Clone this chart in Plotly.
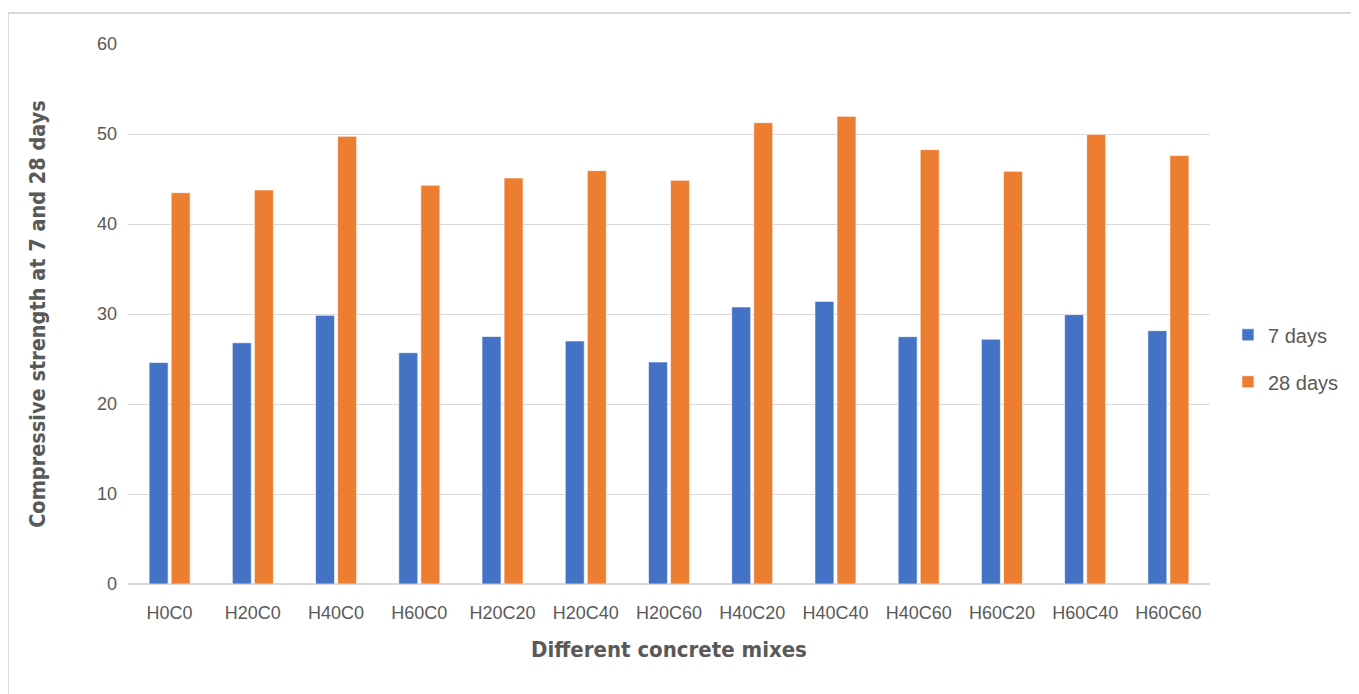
import plotly.graph_objects as go

categories = ["H0C0", "H20C0", "H40C0", "H60C0", "H20C20", "H20C40", "H20C60",
              "H40C20", "H40C40", "H40C60", "H60C20", "H60C40", "H60C60"]
days7 = [24.6, 26.8, 29.85, 25.7, 27.5, 27.0, 24.67, 30.78, 31.4, 27.48, 27.2, 29.93, 28.15]
days28 = [43.48, 43.78, 49.74, 44.3, 45.11, 45.93, 44.85, 51.26, 51.96, 48.26, 45.85, 49.96, 47.6]

fig = go.Figure()
fig.add_trace(go.Bar(x=categories, y=days7, name="7 days", legendgroup="a",
                     marker=dict(color="#4472C4", line=dict(color="rgba(255,255,255,0.6)", width=1))))
fig.add_trace(go.Bar(x=categories, y=days28, name="28 days", legendgroup="b",
                     marker=dict(color="#ED7D31", line=dict(color="rgba(255,255,255,0.6)", width=1))))

title_family = "Liberation Sans Narrow, DejaVu Sans Condensed, Arial Narrow, sans-serif"
border = dict(color="#d9d9d9", width=2)

fig.update_layout(
    width=1351, height=686,
    margin=dict(l=120, r=149, t=36, b=110, autoexpand=False),
    paper_bgcolor="white", plot_bgcolor="white",
    barmode="group", bargap=0.47, bargroupgap=0.14,
    font=dict(family="Liberation Sans, Arial, sans-serif", color="#595959", size=18),
    legend=dict(x=1.0166, y=0.418, xanchor="left", yanchor="middle",
                bgcolor="rgba(0,0,0,0)",
                font=dict(size=20, color="#595959"), tracegroupgap=18, itemwidth=30),
    xaxis=dict(title=dict(text="<b>Different concrete mixes</b>",
                          font=dict(family=title_family, size=22, color="#595959"), standoff=20),
               showline=True, linecolor="#d9d9d9", linewidth=1, ticks="",
               ticklabelstandoff=12,
               tickfont=dict(size=18, color="#595959")),
    yaxis=dict(title=dict(text="<b>Compressive strength at 7 and 28 days</b>",
                          font=dict(family=title_family, size=21.5, color="#595959"), standoff=45),
               range=[0, 60], dtick=10, showgrid=True, gridcolor="#d9d9d9", gridwidth=1,
               zeroline=True, zerolinecolor="#d9d9d9", ticks="",
               ticklabelstandoff=10,
               tickfont=dict(size=18, color="#595959")),
    shapes=[
        dict(type="line", xref="paper", yref="paper", x0=-0.1109, x1=1.14, y0=1.0574, y1=1.0574, line=border),
        dict(type="line", xref="paper", yref="paper", x0=-0.1109, x1=-0.1109, y0=-0.21, y1=1.0574, line=border),
    ],
)

fig.write_html("out.html")
